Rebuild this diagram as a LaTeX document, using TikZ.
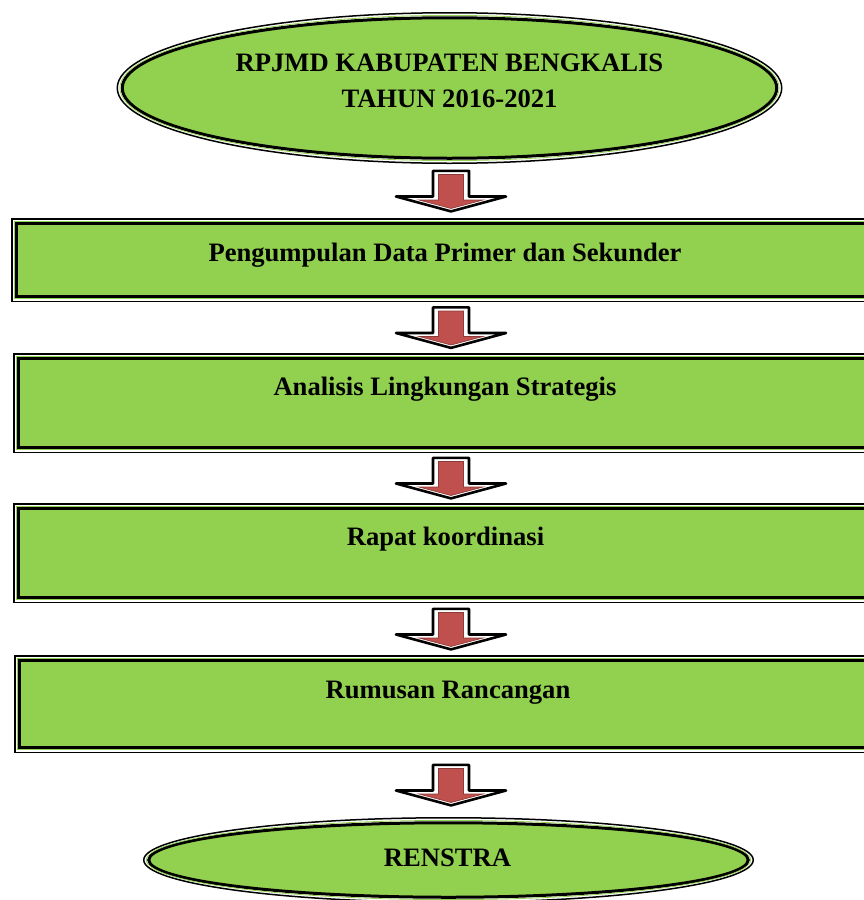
\documentclass[tikz,border=0pt]{standalone}
\usepackage{fontspec}
\setmainfont{Liberation Serif}
\usetikzlibrary{shapes.geometric,calc}
\definecolor{lgreen}{HTML}{92D050}
\definecolor{ared}{HTML}{C0504D}
\definecolor{ardark}{HTML}{8C3836}
\tikzset{
  txtfont/.style={font=\fontsize{26.6pt}{36pt}\selectfont\bfseries},
  stepbox/.style={rectangle, fill=lgreen, draw=black, line width=3pt,
    inner sep=0pt, outer sep=0pt, anchor=north west, txtfont},
  ovalbox/.style={ellipse, fill=lgreen, draw=black, line width=3pt,
    inner sep=0pt, outer sep=0pt},
  lbl/.style={txtfont, align=center, inner sep=0pt},
  blockarr/.pic={
    \draw[line width=2.6pt, fill=white, line join=round]
      (-18,-20.2) -- (18,-20.2) -- (18,5.5) -- (55,5.5) -- (0,20.4)
      -- (-55,5.5) -- (-18,5.5) -- cycle;
    \draw[fill=ared, draw=ardark, line width=0.6pt, line join=miter]
      (-12.5,-16.5) -- (12.5,-16.5) -- (12.5,9) -- (32,9) -- (0,17.5)
      -- (-32,9) -- (-12.5,9) -- cycle;
  }
}
\begin{document}
\begin{tikzpicture}[x=1pt,y=-1pt]
\useasboundingbox (0,0) rectangle (864,900);

% top ellipse
\node[ovalbox, minimum width=654.5pt, minimum height=140.5pt] (e1) at (449.5,88) {};
\draw[line width=1.5pt] (e1.center) ellipse [x radius=332.25, y radius=75.25];
\draw[lgreen, line width=0.8pt] (e1.center) ellipse [x radius=329.6, y radius=72.6];
\node[lbl] (e1t) at (449.5,81) {RPJMD KABUPATEN BENGKALIS\\TAHUN 2016-2021};

% boxes
\node[stepbox, minimum width=856.5pt, text height=38.05pt, text depth=34.45pt] (b1) at (16.75,223.75) {Pengumpulan Data Primer dan Sekunder};
\node[stepbox, minimum width=852.5pt, text height=37.05pt, text depth=51.45pt] (b2) at (18.75,358.75) {Analisis Lingkungan Strategis};
\node[stepbox, minimum width=853.5pt, text height=37.05pt, text depth=51.45pt] (b3) at (18.75,508.75) {Rapat koordinasi};
\node[stepbox, minimum width=856.5pt, text height=38.05pt, text depth=48.45pt] (b4) at (19.75,660.75) {Rumusan Rancangan};

\foreach \n in {b1,b2,b3,b4}{
  \draw[line width=1.5pt] ($(\n.north west)+(-5,-5)$) rectangle ($(\n.south east)+(5,5)$);
  \draw[lgreen, line width=0.8pt] ($(\n.north west)+(-2.4,-2.4)$) rectangle ($(\n.south east)+(2.4,2.4)$);
}

% bottom ellipse
\node[ovalbox, minimum width=599.5pt, minimum height=74.5pt, txtfont] (e2) at (448.5,860) {};
\draw[line width=1.5pt] (e2.center) ellipse [x radius=304.75, y radius=42.25];
\draw[lgreen, line width=0.8pt] (e2.center) ellipse [x radius=302.1, y radius=39.6];
\node[lbl] (e2t) at (447.5,858) {RENSTRA};

% connectors (block arrows)
\coordinate (ax) at (451,0);
\coordinate (m1) at ($(e1.south)!0.5!(b1.north)$);
\coordinate (m2) at ($(b1.south)!0.5!(b2.north)$);
\coordinate (m3) at ($(b2.south)!0.5!(b3.north)$);
\coordinate (m4) at ($(b3.south)!0.5!(b4.north)$);
\coordinate (m5) at ($(b4.south)!0.5!(e2.north)$);
\foreach \m in {m1,m2,m3,m4,m5}{
  \pic at (ax |- \m) {blockarr};
}
\end{tikzpicture}
\end{document}
